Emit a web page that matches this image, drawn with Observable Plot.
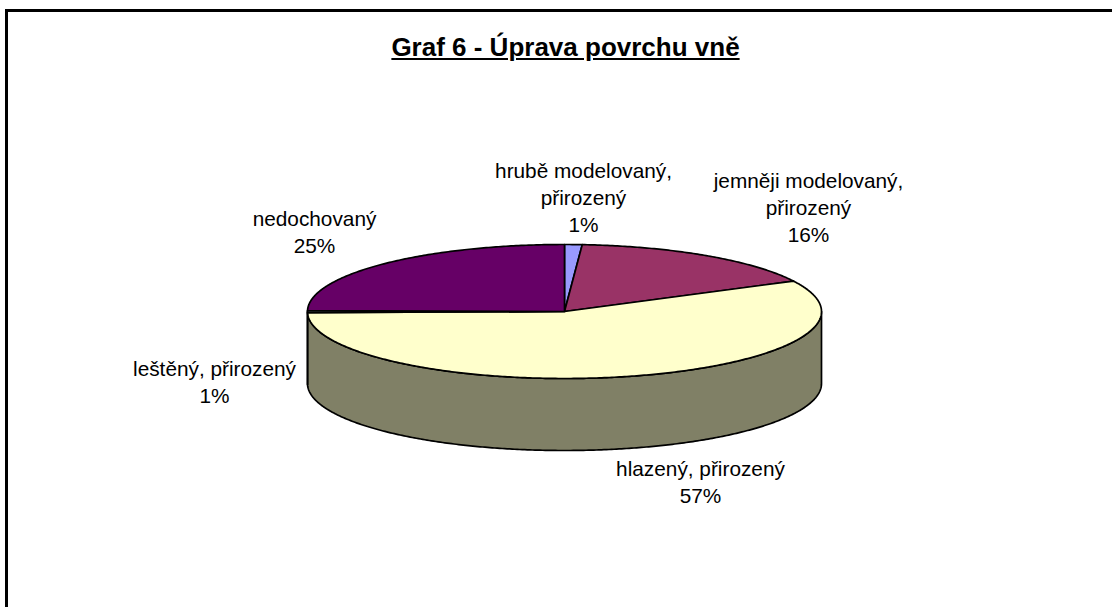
<!DOCTYPE html>
<html lang="cs">
<head>
<meta charset="utf-8">
<style>
  html, body { margin: 0; padding: 0; background: #fff; }
  #page { position: relative; width: 1112px; height: 607px; overflow: hidden; }
  #frameTop { position: absolute; left: 5px; top: 9px; right: 0; height: 3px; background: #000; }
  #frameLeft { position: absolute; left: 5px; top: 9px; bottom: 0; width: 3px; background: #000; }
  #title { position: absolute; left: 0; width: 1131px; top: 32px; text-align: center;
           font: bold 26px "Liberation Sans", Arial, sans-serif; text-decoration: underline; color: #000; }
  #chart { position: absolute; left: 0; top: 0; }
</style>
<script src="https://cdn.jsdelivr.net/npm/d3@7"></script>
<script src="https://cdn.jsdelivr.net/npm/@observablehq/plot@0.6"></script>
</head>
<body>
<div id="page">
  <div id="frameTop"></div>
  <div id="frameLeft"></div>
  <div id="title">Graf 6 - Úprava povrchu vně</div>
  <div id="chart"></div>
</div>
<script>
// Data, clockwise from 12 o'clock
const categories = ["hrubě modelovaný, přirozený", "jemněji modelovaný, přirozený", "hlazený, přirozený", "leštěný, přirozený", "nedochovaný"];
const values = [1.1, 16.4, 57.2, 0.5, 24.8];
const labelLines = ["hrubě modelovaný,\npřirozený", "jemněji modelovaný,\npřirozený", "hlazený, přirozený", "leštěný, přirozený", "nedochovaný"];

// Styles
const topColors = ["#9999FF", "#993366", "#FFFFCC", "#CCFFFF", "#660066"];
const sideColors = ["#4D4D80", "#4D1A33", "#808066", "#668080", "#330033"];

// Layout (pixels)
const W = 1112, H = 607, cx = 564, cy = 311, rx = 257, ry = 67, depth = 72;
const labelCentres = [[583, 196], [808, 206], [700, 480], [214, 380], [314, 230]];

const TAU = Math.PI * 2;
const pie = d3.pie().sort(null).value(d => d)(values);
const pt = a => ({x: Math.sin(a), y: Math.cos(a)});
const arc = (a0, a1) => {
  const n = Math.max(2, Math.ceil((a1 - a0) / 0.01));
  return d3.range(n + 1).map(i => pt(a0 + (a1 - a0) * i / n));
};

// Top-face wedges
const topFaces = pie.flatMap((s, i) =>
  [{x: 0, y: 0}, ...arc(s.startAngle, s.endAngle), {x: 0, y: 0}].map(p => ({...p, key: "top" + i, fill: topColors[i]})));

// Rim walls: only the front half (between 90 and 270 degrees) is visible
const dUnit = depth / ry;
const sideFaces = pie.flatMap((s, i) => {
  const a0 = Math.max(s.startAngle, TAU / 4), a1 = Math.min(s.endAngle, 3 * TAU / 4);
  if (a1 <= a0) return [];
  const upper = arc(a0, a1);
  const lower = upper.map(p => ({x: p.x, y: p.y - dUnit})).reverse();
  return [...upper, ...lower, upper[0]].map(p => ({...p, key: "side" + i, fill: sideColors[i]}));
});

const xUnit = px => (px - cx) / rx;
const yUnit = py => (cy - py) / ry;

const labels = categories.map((c, i) => ({
  text: `${labelLines[i]}\n${Math.round(values[i] + 1e-9)}%`,
  x: xUnit(labelCentres[i][0]),
  y: yUnit(labelCentres[i][1])
}));

const face = data => Plot.line(data, {
  x: "x", y: "y", z: "key", fill: "fill", stroke: "#000", strokeWidth: 1.7,
  curve: "linear", strokeLinejoin: "round"
});

const chart = Plot.plot({
  width: W, height: H,
  margin: 0,
  style: {background: "transparent"},
  x: {type: "linear", domain: [-1, 1], range: [cx - rx, cx + rx], axis: null},
  y: {type: "linear", domain: [-1, 1], range: [cy + ry, cy - ry], axis: null},
  marks: [
    face(sideFaces),
    face(topFaces),
    Plot.text(labels, {
      x: "x", y: "y", text: "text", fill: "#000",
      fontSize: 20.8, lineHeight: 1.3, lineAnchor: "middle", textAnchor: "middle",
      fontFamily: "'Liberation Sans', Arial, sans-serif"
    })
  ]
});
document.getElementById("chart").appendChild(chart);
</script>
</body>
</html>
